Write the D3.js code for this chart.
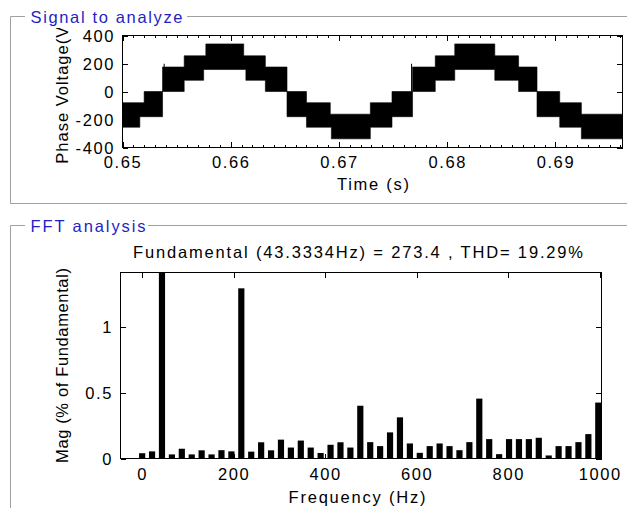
<!DOCTYPE html>
<html><head><meta charset="utf-8">
<script src="https://cdn.jsdelivr.net/npm/d3@7"></script>
<style>
body{margin:0;background:#fff;}
svg{display:block;}
</style></head><body>
<svg id="c" width="627" height="508"></svg>
<script>
// ---------- data ----------
const timeTicks = [0.65, 0.66, 0.67, 0.68, 0.69];
const voltTicks = [-400, -200, 0, 200, 400];
// stepped PWM band of the phase voltage: upper and lower envelopes (time s, volts)
const upperTimes = [0.6500,0.6520,0.6537,0.6557,0.6577,0.6612,0.6632,0.6652,0.6670,0.6692,0.6729,0.6749,0.6768,0.6789,0.6807,0.6844,0.6866,0.6883,0.6904,0.6924];
const upperVals  = [-80,0,175,255,340,255,175,0,-80,-162,-80,0,175,255,340,255,175,0,-80,-162];
const lowerTimes = [0.6500,0.6516,0.6537,0.6557,0.6575,0.6614,0.6632,0.6652,0.6670,0.6693,0.6729,0.6749,0.6768,0.6789,0.6807,0.6844,0.6866,0.6883,0.6904,0.6924];
const lowerVals  = [-255,-180,0,80,157,80,0,-180,-255,-338,-255,-180,0,80,157,80,0,-180,-255,-338];
const spikeTimes = [0.65385, 0.67671];
const spikeVals  = [198, 198];
const timeEnd = 0.6962;

const fftTitle = "Fundamental (43.3334Hz) = 273.4 , THD= 19.29%";
const harmonicFreq = [0,21.67,43.33,65.00,86.67,108.33,130.00,151.67,173.33,195.00,216.67,238.33,260.00,281.67,303.33,325.00,346.67,368.33,390.00,411.67,433.33,455.00,476.67,498.33,520.00,541.67,563.33,585.00,606.67,628.33,650.00,671.67,693.33,715.00,736.67,758.33,780.00,801.67,823.33,845.00,866.67,888.33,910.00,931.67,953.33,975.00,996.67];
const harmonicMag = [0.040,0.054,100,0.031,0.074,0.031,0.062,0.031,0.063,0.054,1.29,0.052,0.123,0.062,0.143,0.083,0.136,0.083,0.042,0.104,0.123,0.083,0.400,0.124,0.094,0.198,0.312,0.114,0.043,0.094,0.114,0.094,0.063,0.124,0.454,0.147,0.033,0.147,0.147,0.147,0.157,0.023,0.094,0.094,0.124,0.185,0.424];
const freqTicks = [0, 200, 400, 600, 800, 1000];
const magTicks = [0, 0.5, 1];

// ---------- drawing ----------
const FONT = '"Liberation Sans", Arial, sans-serif';
const svg = d3.select("#c");
const defs = svg.append("defs");

// group boxes
const gb = svg.append("g").attr("stroke", "#a0a0a0").attr("fill", "none").attr("stroke-width", 1);
gb.append("path").attr("d", "M25,16.5H10.5V203.5H627");
gb.append("path").attr("d", "M187,16.5H627");
gb.append("path").attr("d", "M25,225.5H10.5V508");
gb.append("path").attr("d", "M148,225.5H627");
svg.append("text").attr("x", 30.5).attr("y", 22.7).attr("fill", "#1f1fc4")
  .attr("font-family", FONT).attr("font-size", 16.5)
  .attr("textLength", 152).attr("lengthAdjust", "spacing").text("Signal to analyze");
svg.append("text").attr("x", 30.5).attr("y", 232.3).attr("fill", "#1f1fc4")
  .attr("font-family", FONT).attr("font-size", 16.5)
  .attr("textLength", 115).attr("lengthAdjust", "spacing").text("FFT analysis");

function styleAxis(g, ls) {
  g.attr("font-family", FONT).attr("font-size", 16.5);
  g.select(".domain").remove();
  g.selectAll(".tick line").attr("stroke", "#000").attr("shape-rendering", "crispEdges");
  g.selectAll(".tick text").attr("fill", "#000").attr("letter-spacing", ls + "px");
}

// ---------- top plot ----------
const xT = d3.scaleLinear([0.65, timeEnd], [122.5, 622.5]);
const yV = d3.scaleLinear([-400, 400], [147.5, 35.5]);
const minorT = d3.range(0.651, timeEnd, 0.001).filter(t => Math.abs(t * 100 - Math.round(t * 100)) > 1e-6);

const gTop = svg.append("g");
styleAxis(gTop.append("g").attr("transform", "translate(0,147.5)")
  .call(d3.axisBottom(xT).tickValues(minorT).tickSize(-2.5).tickFormat("")), 0);
styleAxis(gTop.append("g").attr("transform", "translate(0,35.5)")
  .call(d3.axisTop(xT).tickValues(minorT).tickSize(-2.5).tickFormat("")), 0);
const xTb = gTop.append("g").attr("transform", "translate(0,147.5)")
  .call(d3.axisBottom(xT).tickValues(timeTicks).tickSize(-5.5).tickFormat(d3.format(".2f")));
styleAxis(xTb, 1.6);
xTb.selectAll(".tick text").attr("y", 20.8).attr("dy", null);
styleAxis(gTop.append("g").attr("transform", "translate(0,35.5)")
  .call(d3.axisTop(xT).tickValues(timeTicks).tickSize(-5.5).tickFormat("")), 0);
const yVl = gTop.append("g").attr("transform", "translate(122.5,0)")
  .call(d3.axisLeft(yV).tickValues(voltTicks).tickSize(-5.5).tickFormat(d => String(d)));
styleAxis(yVl, 1.6);
yVl.selectAll(".tick text").attr("x", -7.5).attr("dy", "0.36em");
styleAxis(gTop.append("g").attr("transform", "translate(622.5,0)")
  .call(d3.axisRight(yV).tickValues(voltTicks).tickSize(-5.5).tickFormat("")), 0);

// band
const stepAt = (times, vals, t) => vals[d3.bisectRight(times, t) - 1];
const bp = Array.from(new Set([...upperTimes, ...lowerTimes, timeEnd])).sort(d3.ascending);
const band = bp.map(t => ({ t, hi: stepAt(upperTimes, upperVals, t), lo: stepAt(lowerTimes, lowerVals, t) }));
defs.append("clipPath").attr("id", "clipT").append("rect")
  .attr("x", 122.5).attr("y", 35.5).attr("width", 500).attr("height", 112);
const gSig = gTop.append("g").attr("clip-path", "url(#clipT)");
gSig.append("path").datum(band)
  .attr("d", d3.area().curve(d3.curveStepAfter).x(d => xT(d.t)).y0(d => yV(d.lo)).y1(d => yV(d.hi)))
  .attr("fill", "#000").attr("stroke", "#000").attr("stroke-width", 0.6);
gSig.selectAll("line.spike").data(spikeTimes).join("line").attr("class", "spike")
  .attr("x1", d => xT(d)).attr("x2", d => xT(d))
  .attr("y1", d => yV(stepAt(upperTimes, upperVals, d)))
  .attr("y2", (d, i) => yV(spikeVals[i]))
  .attr("stroke", "#000").attr("stroke-width", 1);

gTop.append("rect").attr("x", 122.5).attr("y", 35.5).attr("width", 500).attr("height", 112)
  .attr("fill", "none").attr("stroke", "#000").attr("shape-rendering", "crispEdges");

gTop.append("text").attr("x", 373).attr("y", 190).attr("text-anchor", "middle")
  .attr("font-family", FONT).attr("font-size", 16.5).attr("textLength", 72).attr("lengthAdjust", "spacing")
  .text("Time (s)");
defs.append("clipPath").attr("id", "clipYL").append("rect")
  .attr("x", 0).attr("y", 28).attr("width", 120).attr("height", 180);
gTop.append("g").attr("clip-path", "url(#clipYL)").append("text")
  .attr("transform", "translate(68,91.5) rotate(-90)").attr("text-anchor", "middle")
  .attr("font-family", FONT).attr("font-size", 16.5).attr("letter-spacing", "1px")
  .text("Phase Voltage(V)");

// ---------- bottom plot ----------
const xF = d3.scaleLinear([-47.3, 1003.7], [120.5, 601.5]);
const yM = d3.scaleLinear([0, 1.41], [458.5, 272.5]);
const gBot = svg.append("g");

const xFb = gBot.append("g").attr("transform", "translate(0,458.5)")
  .call(d3.axisBottom(xF).tickValues(freqTicks).tickSize(-5).tickFormat(d => String(d)));
styleAxis(xFb, 1.6);
xFb.selectAll(".tick text").attr("y", 21.5).attr("dy", null);
styleAxis(gBot.append("g").attr("transform", "translate(0,272.5)")
  .call(d3.axisTop(xF).tickValues(freqTicks).tickSize(-5).tickFormat("")), 0);
const yMl = gBot.append("g").attr("transform", "translate(120.5,0)")
  .call(d3.axisLeft(yM).tickValues(magTicks).tickSize(-5).tickFormat(d => String(d)));
styleAxis(yMl, 1.6);
yMl.selectAll(".tick text").attr("x", -7.5).attr("dy", "0.36em");
styleAxis(gBot.append("g").attr("transform", "translate(601.5,0)")
  .call(d3.axisRight(yM).tickValues(magTicks).tickSize(-6).tickFormat("")), 0);

defs.append("clipPath").attr("id", "clipB").append("rect")
  .attr("x", 120.5).attr("y", 272.5).attr("width", 481).attr("height", 186);
const barW = xF(13.5) - xF(0);
gBot.append("g").attr("clip-path", "url(#clipB)").selectAll("rect").data(harmonicFreq).join("rect")
  .attr("x", d => xF(d) - barW / 2)
  .attr("y", (d, i) => yM(harmonicMag[i]))
  .attr("width", barW)
  .attr("height", (d, i) => yM(0) - yM(harmonicMag[i]))
  .attr("fill", "#000");

gBot.append("rect").attr("x", 120.5).attr("y", 272.5).attr("width", 481).attr("height", 186)
  .attr("fill", "none").attr("stroke", "#000").attr("shape-rendering", "crispEdges");

gBot.append("text").attr("x", 358).attr("y", 258.3).attr("text-anchor", "middle")
  .attr("font-family", FONT).attr("font-size", 16.5).attr("textLength", 450).attr("lengthAdjust", "spacing")
  .text(fftTitle);
gBot.append("text").attr("x", 357).attr("y", 503.3).attr("text-anchor", "middle")
  .attr("font-family", FONT).attr("font-size", 16.5).attr("textLength", 137).attr("lengthAdjust", "spacing")
  .text("Frequency (Hz)");
gBot.append("text").attr("transform", "translate(68,365.5) rotate(-90)").attr("text-anchor", "middle")
  .attr("font-family", FONT).attr("font-size", 16.5).attr("textLength", 195).attr("lengthAdjust", "spacing")
  .text("Mag (% of Fundamental)");
</script>
</body></html>
